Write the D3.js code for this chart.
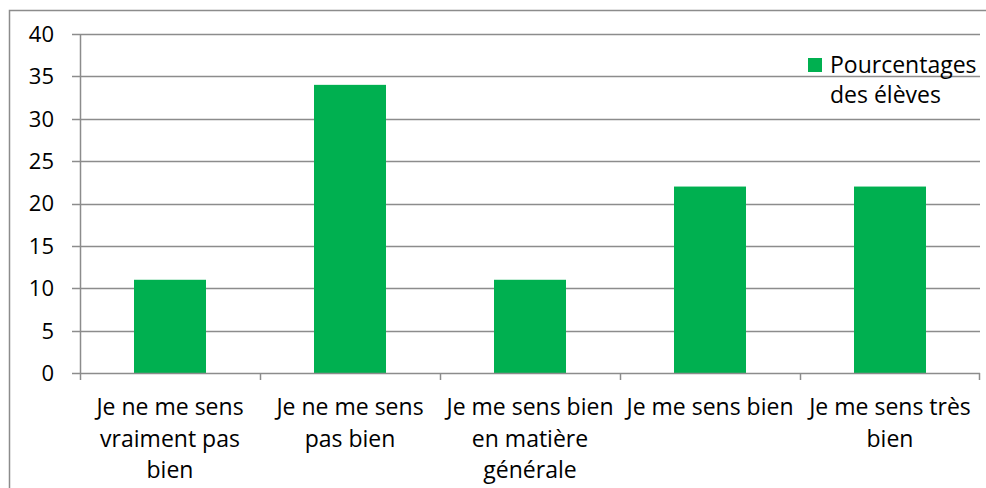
<!DOCTYPE html>
<html><head><meta charset="utf-8">
<script src="https://cdn.jsdelivr.net/npm/d3@7"></script>
<style>body{margin:0;background:#fff}svg{display:block}text{font-family:"Open Sans",sans-serif;fill:#000}</style>
</head><body><svg id="c" width="986" height="488"></svg>
<script>
const categories = [["Je ne me sens","vraiment pas","bien"],["Je ne me sens","pas bien"],["Je me sens bien","en matière","générale"],["Je me sens bien"],["Je me sens très","bien"]];
const values = [11, 34, 11, 22, 22];
const yTicks = [0,5,10,15,20,25,30,35,40];
const seriesName = ["Pourcentages","des élèves"];
const green = "#00B050", grid = "#8c8c8c";
const FS = 23;

const svg = d3.select("#c");
svg.append("rect").attr("x",9.5).attr("y",10.5).attr("width",990).attr("height",500).attr("fill","none").attr("stroke","#8c8c8c").attr("stroke-width",1.5);

const L=80, R=980, T=34, B=373;
const x = d3.scaleBand().domain(d3.range(values.length)).range([L,R]).paddingInner(0.6).paddingOuter(0.3);
const xb = d3.scaleBand().domain(d3.range(values.length)).range([L,R]);
const y = d3.scaleLinear().domain([0,40]).range([B,T]);

svg.append("g").selectAll("line").data(yTicks.filter(d=>d>0)).join("line")
  .attr("x1",L-8).attr("x2",R).attr("y1",d=>Math.round(y(d))+0.5).attr("y2",d=>Math.round(y(d))+0.5)
  .attr("stroke",grid).attr("stroke-width",1.5);
svg.append("line").attr("x1",L+0.5).attr("x2",L+0.5).attr("y1",T).attr("y2",B).attr("stroke",grid).attr("stroke-width",1.5);
svg.append("g").selectAll("text").data(yTicks).join("text")
  .attr("x",54).attr("y",d=>y(d)).attr("dy","0.36em").attr("text-anchor","end").attr("font-size",FS-1).text(d=>d);

svg.append("g").selectAll("rect").data(values).join("rect")
  .attr("x",(d,i)=>x(i)).attr("width",x.bandwidth()).attr("y",d=>y(d)).attr("height",d=>B-y(d)).attr("fill",green);

svg.append("line").attr("x1",L-8).attr("x2",R).attr("y1",B+0.5).attr("y2",B+0.5).attr("stroke",grid).attr("stroke-width",1.5);
svg.append("g").selectAll("line").data(d3.range(values.length+1)).join("line")
  .attr("x1",i=>i<values.length?xb(i)+0.5:R-0.5).attr("x2",i=>i<values.length?xb(i)+0.5:R-0.5)
  .attr("y1",B).attr("y2",B+7).attr("stroke",grid).attr("stroke-width",1.5);
const lab = svg.append("g").selectAll("text").data(categories).join("text")
  .attr("text-anchor","middle").attr("font-size",FS);
lab.each(function(lines,i){
  d3.select(this).selectAll("tspan").data(lines).join("tspan")
    .attr("x",xb(i)+xb.bandwidth()/2).attr("y",(d,j)=>415+j*31.5).text(d=>d);
});

svg.append("rect").attr("x",808).attr("y",58).attr("width",14).attr("height",14).attr("fill",green);
svg.append("g").selectAll("text").data(seriesName).join("text")
  .attr("x",830).attr("y",(d,j)=>73+j*30).attr("font-size",FS).text(d=>d);
</script></body></html>
